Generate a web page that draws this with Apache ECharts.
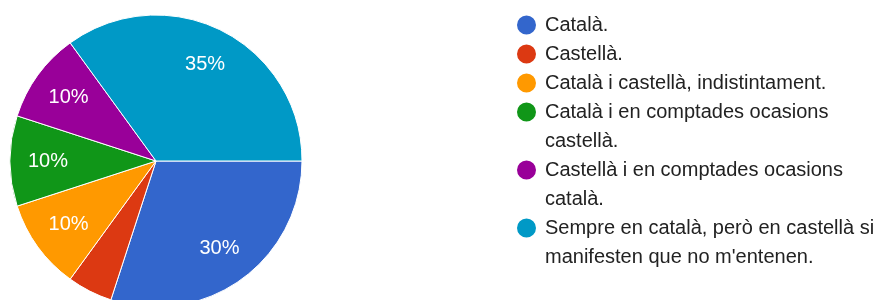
<!DOCTYPE html>
<html>
<head>
<meta charset="utf-8">
<script src="https://cdn.jsdelivr.net/npm/echarts@6/dist/echarts.min.js"></script>
<style>
  html, body { margin: 0; padding: 0; background: #fff; }
  #chart { width: 882px; height: 300px; }
</style>
</head>
<body>
<div id="chart"></div>
<script>
  // answers, counts (out of 20) and slice colours
  const names = [
    'Català.',
    'Castellà.',
    'Català i castellà, indistintament.',
    'Català i en comptades ocasions\ncastellà.',
    'Castellà i en comptades ocasions\ncatalà.',
    'Sempre en català, però en castellà si\nmanifesten que no m\'entenen.'
  ];
  const values = [6, 1, 2, 2, 2, 7];
  const colors = ['#3366cc', '#dc3912', '#ff9900', '#109618', '#990099', '#0099c6'];

  const font = '"Liberation Sans", Arial, sans-serif';
  const pieData = names.map(function (n, i) {
    return { name: n, value: values[i] };
  });

  // one legend per entry; blank lines on top keep the dot on the first text line
  let line = 0;
  const legends = names.map(function (name) {
    const n = name.split('\n').length;
    const center = 25 + 29 * line;
    line += n;
    return {
      data: [name],
      left: 515,
      top: center - (2 * n - 1) * 14.5,
      padding: 0,
      orient: 'vertical',
      icon: 'circle',
      itemWidth: 27,
      itemHeight: 21,
      selectedMode: false,
      formatter: function (nm) {
        return '\n'.repeat(n - 1) + nm;
      },
      textStyle: {
        fontFamily: font,
        fontSize: 20,
        color: '#222',
        lineHeight: 29
      }
    };
  });

  let chart = echarts.init(document.getElementById('chart'));
  chart.setOption({
    animation: false,
    color: colors,
    legend: legends,
    series: [
      {
        type: 'pie',
        center: [156, 161],
        radius: 146,
        startAngle: 0,
        clockwise: true,
        data: pieData,
        label: { show: false },
        labelLine: { show: false },
        itemStyle: { borderColor: '#fff', borderWidth: 1 },
        emphasis: { disabled: true }
      },
      {
        // transparent ring only used to put the % labels further out
        type: 'pie',
        center: [156, 161],
        radius: [64, 146],
        startAngle: 0,
        clockwise: true,
        silent: true,
        data: pieData,
        itemStyle: { color: 'rgba(0,0,0,0)' },
        label: {
          show: true,
          position: 'inside',
          color: '#fff',
          fontFamily: font,
          fontSize: 20,
          formatter: function (p) {
            return p.percent < 8 ? '' : Math.round(p.percent) + '%';
          }
        },
        labelLine: { show: false },
        emphasis: { disabled: true }
      }
    ]
  });
</script>
</body>
</html>
